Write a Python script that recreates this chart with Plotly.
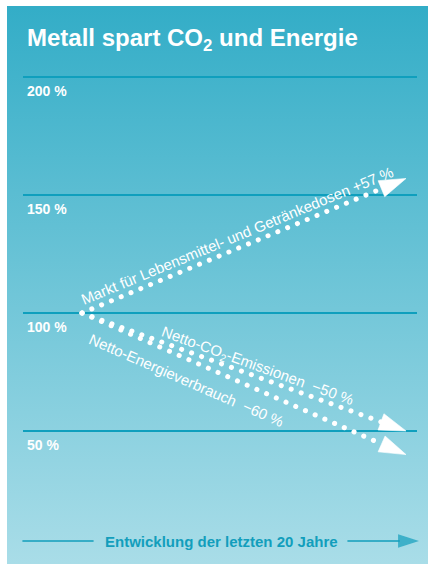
import math
import plotly.graph_objects as go

# ---------------- data ----------------
years = [0, 20]                       # "Entwicklung der letzten 20 Jahre"
market = [100, 157]                   # Markt für Lebensmittel- und Getränkedosen +57 %
co2 = [100, 50]                       # Netto-CO2-Emissionen −50 %
energy = [100, 40]                    # Netto-Energieverbrauch −60 %
series_values = [market, co2, energy]
series_labels = [
    "Markt für Lebensmittel- und Getränkedosen +57 %",
    "Netto-CO<sub>2</sub>-Emissionen \u00a0−50 %",
    "Netto-Energieverbrauch \u00a0−60 %",
]
grid_levels = [200, 150, 100, 50]
tick_labels = ["200 %", "150 %", "100 %", "50 %"]
title_text = "Metall spart CO<sub>2</sub> und Energie"
x_axis_text = "Entwicklung der letzten 20 Jahre"

# ---------------- styling / layout ----------------
W, H = 428, 564
ML, MT = 7, 6
PW, PH = W - ML, H - MT
X2_DOMAIN = [(23 - ML) / PW, (417 - ML) / PW]
X2_RANGE = [-3.642, 20.679]
Y2_RANGE = [-6.36, 230.08]
FONT = "Liberation Sans, Arial, Helvetica, sans-serif"
WHITE = "#ffffff"
TEAL = "#129ebc"
GRID = "#0f9fbd"
TOP_BG = "#33adc7"
BOT_BG = "#a9dde8"

px_per_x = (X2_DOMAIN[1] - X2_DOMAIN[0]) * PW / (X2_RANGE[1] - X2_RANGE[0])
px_per_y = PH / (Y2_RANGE[1] - Y2_RANGE[0])

fig = go.Figure()

# background panel with vertical gradient (pixel-unit helper axes x/y)
fig.add_trace(go.Scatter(
    x=[ML, W, W, ML, ML], y=[MT, MT, H, H, MT],
    mode="none", fill="toself",
    fillgradient=dict(type="vertical", colorscale=[[0, BOT_BG], [1, TOP_BG]]),
    hoverinfo="skip", xaxis="x", yaxis="y",
))

# bottom time axis: plain line + arrow
fig.add_trace(go.Scatter(
    x=[23, 93], y=[541, 541], mode="lines",
    line=dict(color=TEAL, width=1.6), hoverinfo="skip", xaxis="x", yaxis="y",
))
fig.add_trace(go.Scatter(
    x=[348, 419], y=[541, 541], mode="lines+markers",
    line=dict(color=TEAL, width=1.6),
    marker=dict(symbol=["circle", "arrow"], size=[0, 22], color=TEAL,
                angleref="previous", line=dict(width=0)),
    hoverinfo="skip", xaxis="x", yaxis="y", cliponaxis=False,
))

# data series (dotted arrows)
for vals in series_values:
    fig.add_trace(go.Scatter(
        x=years, y=vals, mode="lines+markers",
        line=dict(color=WHITE, width=5, dash="0.1px,10.5px"),
        marker=dict(symbol=["circle", "arrow"], size=[7, 28], color=WHITE,
                    opacity=1, angleref="previous", line=dict(width=0.6, color=WHITE)),
        hoverinfo="skip", xaxis="x2", yaxis="y2", cliponaxis=False,
    ))

annotations = []
annotations.append(dict(
    text=title_text, xref="x", yref="y", x=25, y=39, xanchor="left", yanchor="middle",
    showarrow=False, font=dict(family=FONT, size=24, color=WHITE, weight="bold"),
))
for lvl, lab in zip(grid_levels, tick_labels):
    annotations.append(dict(
        text=lab, xref="x", yref="y2", x=25, y=lvl, xanchor="left", yanchor="top",
        yshift=-4, showarrow=False,
        font=dict(family=FONT, size=14, color=WHITE, weight="bold"),
    ))

label_pos = [(9.57, 13), (10.86, 11), (6.48, -22)]
for vals, lab, (lx, ys) in zip(series_values, series_labels, label_pos):
    ly = vals[0] + (vals[1] - vals[0]) * (lx - years[0]) / (years[1] - years[0])
    slope_px = (vals[1] - vals[0]) * px_per_y / ((years[1] - years[0]) * px_per_x)
    ang = math.degrees(math.atan(slope_px))
    annotations.append(dict(
        text=lab, xref="x2", yref="y2", x=lx, y=ly, yshift=ys,
        xanchor="center", yanchor="middle", textangle=-ang, showarrow=False,
        font=dict(family=FONT, size=15, color=WHITE),
    ))

annotations.append(dict(
    text=x_axis_text, xref="x", yref="y", x=221.5, y=541, xanchor="center", yanchor="middle",
    showarrow=False, font=dict(family=FONT, size=15, color=TEAL, weight="bold"),
))

fig.update_layout(
    width=W, height=H,
    margin=dict(l=ML, r=0, t=MT, b=0, pad=0),
    paper_bgcolor="white", plot_bgcolor="rgba(0,0,0,0)",
    showlegend=False,
    xaxis=dict(domain=[0, 1], range=[ML, W], visible=False, fixedrange=True),
    yaxis=dict(domain=[0, 1], range=[H, MT], visible=False, fixedrange=True),
    xaxis2=dict(domain=X2_DOMAIN, range=X2_RANGE, anchor="y2", showgrid=False,
                zeroline=False, showticklabels=False, showline=False, ticks=""),
    yaxis2=dict(domain=[0, 1], range=Y2_RANGE, anchor="x2", tickvals=grid_levels,
                showticklabels=False, gridcolor=GRID, gridwidth=1.5, zeroline=False,
                showline=False, ticks=""),
    annotations=annotations,
)

post = """
var s = document.createElement('style');
s.innerHTML = 'html,body{margin:0;padding:0;overflow:hidden;} .scatterlayer .js-line{stroke-linecap:round !important;}';
document.head.appendChild(s);
"""
fig.write_html("out.html", post_script=post, config={"displayModeBar": False})
